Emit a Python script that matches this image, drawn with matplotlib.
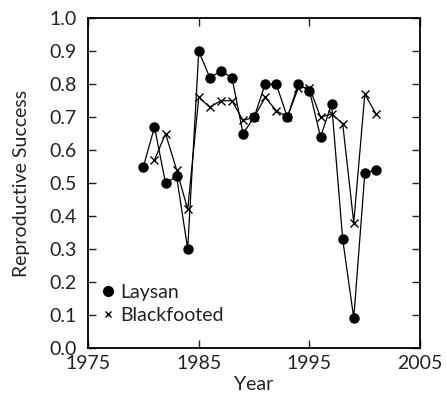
import matplotlib
matplotlib.use("Agg")
import matplotlib.pyplot as plt

# -------- Data --------
laysan_years = [1980, 1981, 1982, 1983, 1984, 1985, 1986, 1987, 1988, 1989, 1990,
                1991, 1992, 1993, 1994, 1995, 1996, 1997, 1998, 1999, 2000, 2001]
laysan = [0.55, 0.67, 0.50, 0.52, 0.30, 0.90, 0.82, 0.84, 0.82, 0.65, 0.70,
          0.80, 0.80, 0.70, 0.80, 0.78, 0.64, 0.74, 0.33, 0.09, 0.53, 0.54]

black_years = [1981, 1982, 1983, 1984, 1985, 1986, 1987, 1988, 1989, 1990,
               1991, 1992, 1993, 1994, 1995, 1996, 1997, 1998, 1999, 2000, 2001]
blackfooted = [0.57, 0.65, 0.54, 0.42, 0.76, 0.73, 0.75, 0.75, 0.69, 0.70,
               0.76, 0.72, 0.70, 0.79, 0.79, 0.70, 0.71, 0.68, 0.38, 0.77, 0.71]

x_ticks = [1975, 1985, 1995, 2005]
y_ticks = [0.0, 0.1, 0.2, 0.3, 0.4, 0.5, 0.6, 0.7, 0.8, 0.9, 1.0]

plt.rcParams["font.family"] = ["Lato", "DejaVu Sans"]

fig = plt.figure(figsize=(4.47, 3.98), dpi=100)
ax = fig.add_axes([0.197, 0.126, 0.743, 0.828])

ax.plot(laysan_years, laysan, color="black", lw=0.9, marker="o", ms=6.5,
        label="Laysan")
ax.plot(black_years, blackfooted, color="black", lw=0.9, marker="x", ms=5.5,
        mew=1.0, label="Blackfooted")

ax.set_xlim(1975, 2005)
ax.set_ylim(0, 1.0)
ax.set_xticks(x_ticks)
ax.set_yticks(y_ticks)
ax.set_yticklabels([f"{v:.1f}" for v in y_ticks])
ax.tick_params(direction="in", length=6, width=1.0, top=True, right=True,
               labelsize=14, colors="#222222")
ax.tick_params(axis="y", pad=8)
ax.tick_params(axis="x", pad=5)
for s in ax.spines.values():
    s.set_linewidth(1.3)

ax.set_xlabel("Year", fontsize=14, labelpad=3, color="#222222")
ax.set_ylabel("Reproductive Success", fontsize=14, labelpad=14, color="#222222")

# legend: markers only, no line segments
h1, = ax.plot([], [], ls="none", marker="o", ms=7, color="black")
h2, = ax.plot([], [], ls="none", marker="x", ms=5, mew=1.0, color="black")
leg = ax.legend([h1, h2], ["Laysan", "Blackfooted"], loc="lower left",
                frameon=False, fontsize=14, handlelength=0.6, handletextpad=0.3,
                labelspacing=0.3, borderaxespad=0.0, bbox_to_anchor=(0.02, 0.05))
for t in leg.get_texts():
    t.set_color("#222222")

fig.savefig("out.png", dpi=100)
